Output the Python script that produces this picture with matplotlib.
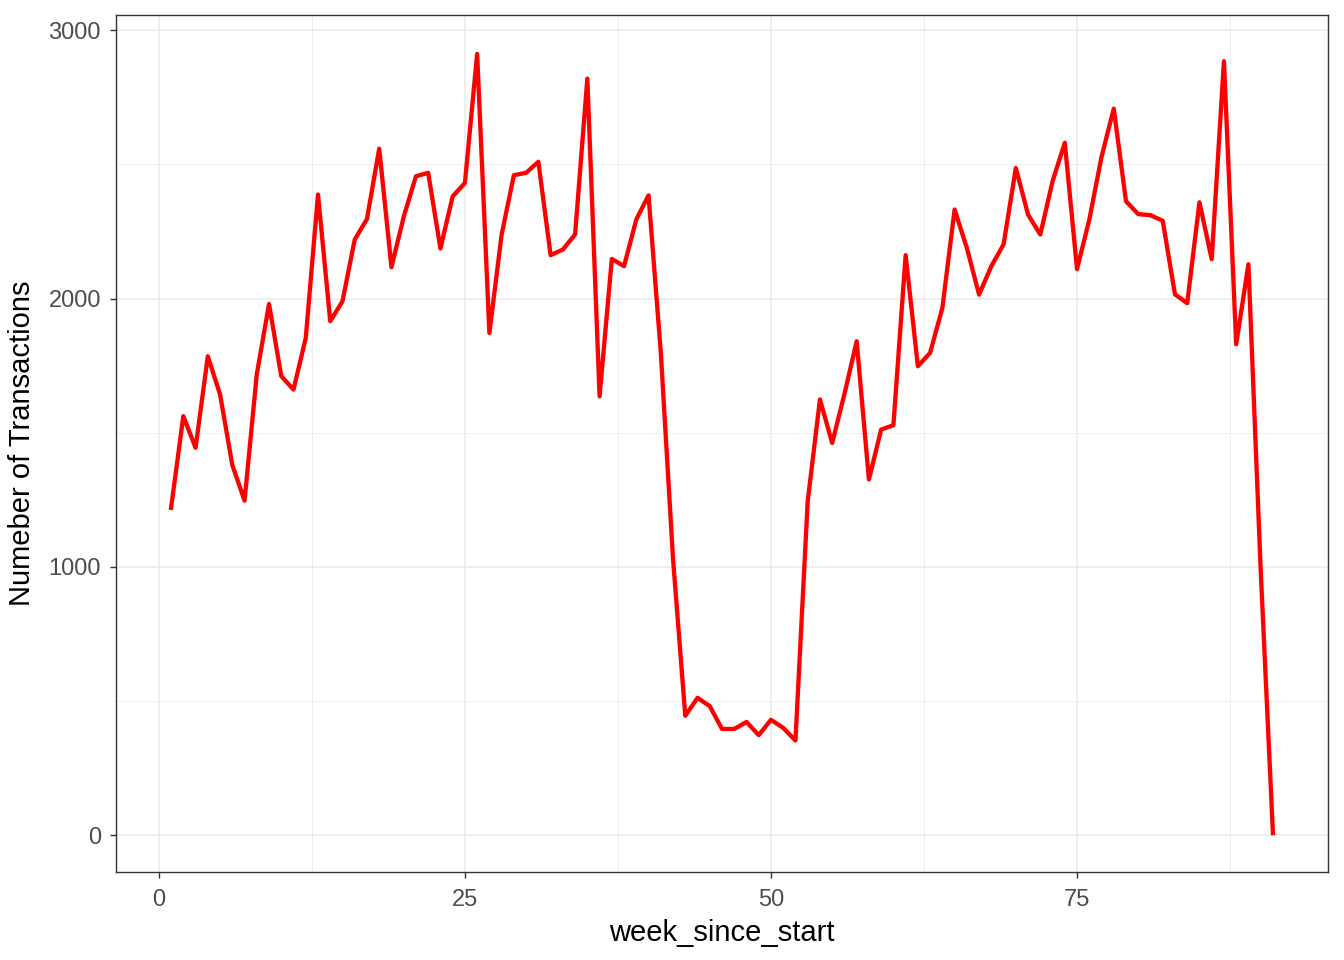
import matplotlib
matplotlib.use("Agg")
import matplotlib.pyplot as plt
from matplotlib.ticker import MultipleLocator

# datos
weeks = list(range(1, 92))
transactions = [
    1220, 1562, 1444, 1785, 1643, 1380, 1247, 1718, 1980, 1711,
    1661, 1853, 2388, 1916, 1990, 2220, 2297, 2559, 2117, 2305,
    2456, 2469, 2187, 2381, 2431, 2912, 1872, 2239, 2460, 2469,
    2510, 2162, 2183, 2239, 2820, 1636, 2148, 2121, 2295, 2385,
    1800, 1030, 445, 512, 481, 396, 396, 422, 373, 430,
    400, 353, 1245, 1624, 1462, 1644, 1841, 1326, 1512, 1528,
    2162, 1748, 1798, 1965, 2332, 2189, 2015, 2121, 2202, 2487,
    2313, 2239, 2437, 2581, 2110, 2294, 2528, 2708, 2363, 2315,
    2311, 2290, 2016, 1983, 2359, 2147, 2885, 1830, 2128, 990,
    8,
]

x_title = "week_since_start"
y_title = "Numeber of Transactions"

plt.rcParams["font.family"] = ["Liberation Sans", "DejaVu Sans"]

fig = plt.figure(figsize=(13.44, 9.6), dpi=100)
ax = fig.add_axes([116 / 1344, 1 - 872 / 960, (1328 - 116) / 1344, (872 - 15) / 960])

ax.plot(weeks, transactions, color="#FF0000", linewidth=3.1, solid_joinstyle="round", zorder=3)

# rangos con expansion del 5% como ggplot
xr = max(weeks) - min(weeks)
yr = max(transactions) - min(transactions)
ax.set_xlim(min(weeks) - 0.05 * xr, max(weeks) + 0.05 * xr)
ax.set_ylim(min(transactions) - 0.05 * yr, max(transactions) + 0.05 * yr)

ax.xaxis.set_major_locator(MultipleLocator(25))
ax.xaxis.set_minor_locator(MultipleLocator(12.5))
ax.yaxis.set_major_locator(MultipleLocator(1000))
ax.yaxis.set_minor_locator(MultipleLocator(500))

ax.grid(which="major", color="#EBEBEB", linewidth=1.1, zorder=0)
ax.grid(which="minor", color="#EBEBEB", linewidth=0.55, zorder=0)
ax.set_axisbelow(True)

for s in ax.spines.values():
    s.set_color("#333333")
    s.set_linewidth(1.0)

ax.tick_params(which="major", length=4.3, width=1.0, color="#333333",
               labelsize=17, labelcolor="#4D4D4D")
ax.tick_params(axis="x", which="major", pad=8)
ax.tick_params(axis="y", which="major", pad=6.5)
ax.tick_params(which="minor", length=0)

ax.set_xlabel(x_title, fontsize=21, color="black", labelpad=6)
ax.set_ylabel(y_title, fontsize=21, color="black", labelpad=9)

fig.savefig("out.png", dpi=100, facecolor="white")
